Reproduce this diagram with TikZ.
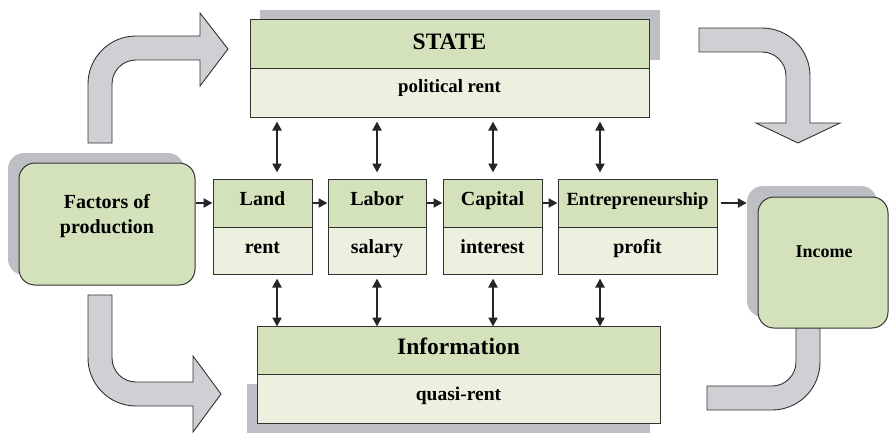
\documentclass[tikz,border=0pt]{standalone}
\usepackage{fontspec}
\setmainfont{Liberation Serif}
\usetikzlibrary{arrows.meta}
\definecolor{gD}{RGB}{211,226,187}
\definecolor{gL}{RGB}{235,241,222}
\definecolor{shd}{RGB}{190,191,196}
\definecolor{arg}{RGB}{207,208,212}
\definecolor{lnc}{RGB}{50,50,50}
\begin{document}
\begin{tikzpicture}[x=1pt,y=-1pt,
  topbox/.style={draw=lnc, fill=gD, line width=1pt, inner sep=0pt, text height=11pt, text depth=7pt, font=\fontsize{20}{24}\selectfont\bfseries},
  botbox/.style={draw=lnc, fill=gL, line width=1pt, inner sep=0pt, text height=11pt, text depth=6pt, font=\fontsize{20}{24}\selectfont\bfseries},
  shadowbox/.style={fill=shd, draw=none, inner sep=0pt},
  roundbox/.style={draw=lnc, fill=gD, line width=1pt, inner sep=0pt, rounded corners=16pt},
  txt/.style={inner sep=0pt, align=center, font=\fontsize{20}{25}\selectfont\bfseries},
  bigarr/.style={fill=arg, draw=lnc, line width=0.9pt, line join=miter},
  arr/.style={-{Triangle[length=9pt,width=9pt]}, line width=2.4pt, draw=black!85},
  darr/.style={{Triangle[length=9pt,width=9pt]}-{Triangle[length=9pt,width=9pt]}, line width=2.2pt, draw=black!85}
]
\useasboundingbox (0,0) rectangle (890,433);

% shadows
\fill[shd] (260,10) rectangle (660,60);
\fill[shd] (247,384) rectangle (650,433);
\node[shadowbox, rounded corners=16pt, minimum width=176pt, minimum height=122pt] (facs) at (96,214) {};
\node[shadowbox, rounded corners=16pt, minimum width=130pt, minimum height=131pt] (incs) at (812,251.5) {};

% big gray arrows
\filldraw[bigarr] (88,143) -- (88,84) arc[start angle=180, end angle=270, radius=48]
  -- (200,36) -- (200,13) -- (228,49) -- (200,86) -- (200,60) -- (136,60)
  arc[start angle=270, end angle=180, radius=24] -- (112,143) -- cycle;
\filldraw[bigarr] (699,28) -- (762,28) arc[start angle=270, end angle=360, radius=48]
  -- (810,123) -- (840,123) -- (798,143) -- (756,123) -- (786,123) -- (786,76)
  arc[start angle=0, end angle=-90, radius=24] -- (699,52) -- cycle;
\filldraw[bigarr] (88,295) -- (88,358) arc[start angle=180, end angle=90, radius=48]
  -- (193,406) -- (193,432) -- (221,394) -- (193,356) -- (193,382) -- (136,382)
  arc[start angle=90, end angle=180, radius=24] -- (112,295) -- cycle;
\filldraw[bigarr] (796,326) -- (796,362) arc[start angle=0, end angle=90, radius=24]
  -- (707,386) -- (707,410) -- (772,410) arc[start angle=90, end angle=0, radius=48]
  -- (820,326) -- cycle;

% STATE
\node[topbox, minimum width=399pt, minimum height=49pt, text height=14pt, text depth=3pt, font=\fontsize{23.5}{28}\selectfont\bfseries] (state) at (449.5,44.5) {STATE};
\node[botbox, minimum width=399pt, minimum height=48pt, text height=6pt, text depth=6pt, font=\fontsize{18.8}{22}\selectfont\bfseries] (stateb) at (449.5,93) {political rent};

% Information
\node[topbox, minimum width=403pt, minimum height=48pt, text height=12pt, text depth=4pt, font=\fontsize{23.5}{28}\selectfont\bfseries] (info) at (458.5,350) {Information};
\node[botbox, minimum width=403pt, minimum height=49pt, text height=8pt, text depth=5pt, font=\fontsize{19.5}{23}\selectfont\bfseries] (infob) at (458.5,398.5) {quasi-rent};

% factor boxes
\node[topbox, minimum width=99pt, minimum height=48pt] (land) at (262.5,203) {Land};
\node[botbox, minimum width=99pt, minimum height=47pt] (landb) at (262.5,250.5) {rent};
\node[topbox, minimum width=98pt, minimum height=48pt] (labor) at (377,203) {Labor};
\node[botbox, minimum width=98pt, minimum height=47pt] (laborb) at (377,250.5) {salary};
\node[topbox, minimum width=99pt, minimum height=48pt] (cap) at (492.5,203) {Capital};
\node[botbox, minimum width=99pt, minimum height=47pt] (capb) at (492.5,250.5) {interest};
\node[topbox, minimum width=159pt, minimum height=48pt, font=\fontsize{18.6}{22}\selectfont\bfseries] (ent) at (637.5,203) {Entrepreneurship};
\node[botbox, minimum width=159pt, minimum height=47pt] (entb) at (637.5,250.5) {profit};

% rounded boxes
\node[roundbox, minimum width=176pt, minimum height=122pt] (fac) at (107,224) {};
\node[txt] (factxt) at (107,216) {Factors of\\production};
\node[roundbox, minimum width=130pt, minimum height=131pt] (inc) at (823,262.5) {};
\node[txt, font=\fontsize{18}{22}\selectfont\bfseries] (inctxt) at (824,252) {Income};

% horizontal arrows
\draw[arr] (fac.east |- land.west) -- (land.west);
\draw[arr] (land.east) -- (labor.west);
\draw[arr] (labor.east) -- (cap.west);
\draw[arr] (cap.east) -- (ent.west);
\draw[arr, shorten <=3pt] (ent.east) -- (incs.west |- ent.east);

% vertical double arrows
\coordinate (v1) at (277,0);
\coordinate (v2) at (377,0);
\coordinate (v3) at (493,0);
\coordinate (v4) at (600,0);
\foreach \v/\t/\b in {v1/land/landb, v2/labor/laborb, v3/cap/capb, v4/ent/entb}{
  \draw[darr, shorten <=4pt, shorten >=6pt] (stateb.south -| \v) -- (\t.north -| \v);
  \draw[darr, shorten <=4pt, shorten >=-1pt] (\b.south -| \v) -- (info.north -| \v);
}
\end{tikzpicture}
\end{document}
